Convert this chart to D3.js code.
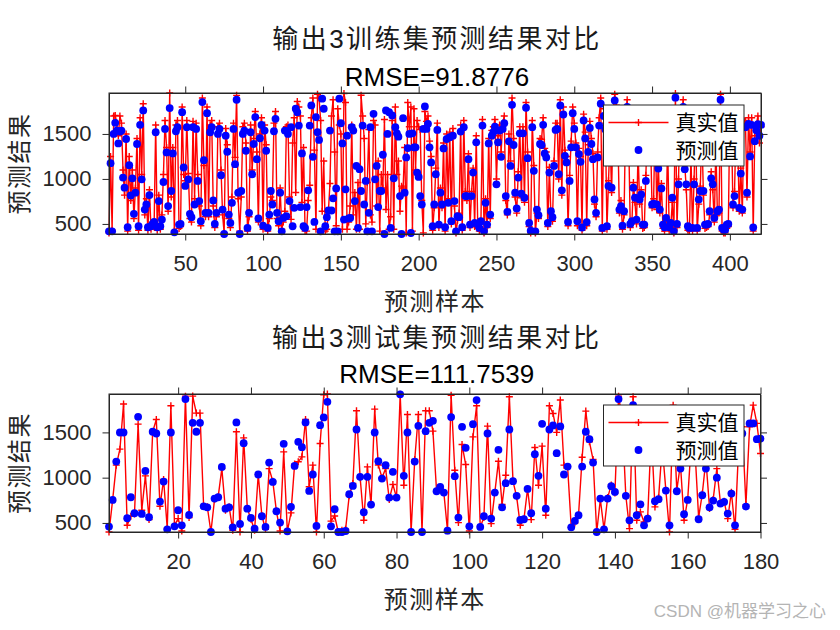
<!DOCTYPE html>
<html>
<head>
<meta charset="utf-8">
<script src="https://cdn.jsdelivr.net/npm/d3@7"></script>
<style>
  html, body { margin: 0; padding: 0; background: #fff; }
  svg { display: block; }
</style>
</head>
<body>
<svg id="chart" width="840" height="630"></svg>
<script>
// ---------- DATA ----------
const trainTitle = "输出3训练集预测结果对比";
const trainRmse = "RMSE=91.8776";
const testTitle = "输出3测试集预测结果对比";
const testRmse = "RMSE=111.7539";
const xLabel = "预测样本";
const yLabel = "预测结果";
const legendLabels = ["真实值", "预测值"];
const trainXTicks = [50, 100, 150, 200, 250, 300, 350, 400];
const testXTicks = [20, 40, 60, 80, 100, 120, 140, 160, 180];
const yTicks = [500, 1000, 1500];

const trainPred = [
418,1175,418,1500,1623,1537,1395,1526,1537,1015,
903,1444,463,1153,817,1007,612,847,1388,474,
1601,996,1761,660,716,463,821,474,500,522,
1519,463,754,474,548,966,1556,1295,698,1787,
866,1283,407,1530,1575,493,500,1742,1127,922,
1575,996,612,575,1575,716,1556,978,754,530,
1854,1209,623,1731,623,1519,1575,761,500,623,
1500,1556,1041,660,388,1481,1302,604,511,735,
1556,1164,1880,847,388,866,1500,1537,1313,455,
623,1519,1052,1388,1687,1220,560,1452,1600,480,
1537,1313,455,604,866,716,
1530,1668,623,530,847,418,567,1537,586,1500,
754,1575,474,679,1780,1742,1593,687,1283,474,
455,687,873,1593,1817,1246,522,1687,1519,1433,
418,1892,1780,474,575,649,1537,649,784,418,
895,418,1892,1619,1395,548,884,1481,560,567,
1575,1537,754,1145,455,1108,866,1593,716,978,
418,623,1575,418,1724,996,1145,687,866,866,
1269,388,1761,1500,1742,455,1705,1007,1575,1507,
1470,810,388,1675,847,1239,1343,1500,399,1507,
1351,1351,1071,1022,810,716,1556,1806,
1556,1612,1351,1183,474,716,1052,1545,493,847,
716,1339,463,1444,735,1463,530,1481,754,418,
586,575,1526,463,1575,810,810,1220,493,810,
1071,511,1407,493,455,530,1593,418,735,493,
1395,604,1481,1519,1582,940,1407,1537,1246,1556,
1619,810,634,1418,1145,1824,1377,847,672,1015,
1507,836,1507,791,1791,1231,511,425,1575,1090,
418,660,597,1388,1377,1601,1283,1239,511,1071,
642,575,1145,1545,1556,1052,1817,873,1716,1257,
1183,522,978,1351,1731,1556,1351,530,1276,1190,
460,1650,
1450,520,1300,1567,1388,1220,772,623,1239,1593,
1836,455,1700,1550,474,922,1380,903,1650,1873,
1750,1450,660,698,480,642,1600,1800,1350,500,
530,903,791,548,1250,772,828,493,493,978,
1500,1700,1400,716,724,1600,716,1116,660,895,
493,463,567,1350,463,511,791,418,1903,500,
940,1650,1550,1800,1108,940,474,455,1200,455,
940,1600,455,772,866,1450,866,493,493,500,
642,1007,940,567,1300,642,660,1880,455,436,
436,493,500,1700,1500,716,810,1575,1381,679,
1059,660,1575,1575,847,1612,1250,1600,460,1420,
1540,1610,1480,1600
];

const trainTrue = [
400,1250,430,1700,1705,1620,1480,1700,1620,1100,
820,1500,420,1250,760,1100,560,900,1450,430,
1680,1050,1836,600,780,430,880,440,470,480,
1600,430,820,440,600,1050,1650,1350,640,1955,
800,1350,420,1600,1650,450,470,1800,1050,980,
1650,1060,560,520,1640,780,1620,1050,700,480,
1900,1150,580,1800,580,1600,1650,700,460,580,
1580,1620,1100,600,400,1560,1380,560,460,800,
1620,1240,1929,780,420,800,1580,1620,1400,420,
580,1600,1100,1450,1750,1300,520,1500,1680,440,
1600,1380,420,560,800,760,1620,1750,560,480,
900,440,520,640,1580,1600,800,550,1400,1680,
850,1860,1800,1700,740,1350,420,420,760,930,
1680,1900,1320,440,1940,1900,1650,640,1200,420,
440,640,950,1700,1880,1300,480,1780,1600,1500,
440,1950,1850,440,520,700,1600,600,850,440,
960,440,1930,1700,1450,500,960,1550,600,520,
1650,1600,700,1200,420,1050,900,1660,660,1050,
440,580,1650,440,1800,1050,1200,640,920,900,
1350,400,1850,1580,1800,420,1780,1100,1650,1580,
1550,760,400,1750,
1640,1700,1420,1250,430,680,1120,1620,460,900,
680,1400,420,1500,780,1520,500,1560,700,400,
540,620,1600,430,1650,860,760,1280,460,860,
1120,470,1480,450,420,500,1660,400,780,460,
1450,560,1540,1580,1660,1000,1480,1600,1300,1620,
1700,760,600,1500,1200,1900,1450,800,620,1080,
1580,790,1580,740,1850,1300,470,400,1650,1150,
400,620,560,1450,1440,1680,1340,1300,470,1130,
600,530,1200,1620,1620,1000,1880,820,1800,1320,
1250,480,1040,1420,1800,1620,1400,480,1340,1250,
430,1720,
1520,480,1380,1640,1450,1280,720,580,1300,1680,
1900,420,1780,1620,440,980,1440,850,1720,1940,
1820,1520,620,760,440,600,1680,1880,1420,460,
500,960,740,500,1320,720,880,450,460,1040,
1580,1780,1460,680,780,1680,660,1180,620,950,
450,420,520,1420,420,470,740,400,1950,460,
1000,1720,1620,1880,1160,880,430,420,1260,420,
1000,1680,420,720,920,1520,820,450,460,470,
600,1080,880,520,1380,600,620,1940,420,400,
400,450,470,1780,1580,680,860,1640,1440,640,
1120,620,1650,1640,800,1680,1300,1680,420,1480,
1600,1700,1400,1580
];

const testPred = [
460,754,1178,1499,1499,552,784,607,1672,600,
1075,563,1507,1488,736,957,430,1499,463,640,
474,1868,588,1606,1507,1606,684,673,400,769,
784,1119,658,673,452,1610,489,1381,658,555,
437,1035,574,456,1167,
953,629,504,1374,408,677,1130,1396,1337,1610,
854,1035,467,1580,1665,1838,463,651,400,400,
411,817,909,1532,1009,618,1009,703,1499,1182,
990,1138,780,1064,780,1920,1020,1499,400,1178,
1573,400,1514,1606,
1628,850,898,835,415,1669,1016,559,1562,1330,
463,1591,1857,456,574,1488,548,835,1307,673,
939,1532,961,799,533,541,876,607,1260,1020,
1595,658,1532,1577,1271,1566,1035,1123,452,522,
585,1123,1507,
1425,1167,400,769,430,769,906,843,1868,1500,
799,529,1800,585,706,474,548,1400,740,762,
1300,858,474,1700,850,1100,596,754,1300,1200,
541,806,1100,673,747,1000,714,732,603,824,
474,1300,1488,681,1599,1599,1425,1430
];

const testTrue = [
400,754,1138,1315,1813,474,574,600,1591,640,
1020,537,1507,1643,684,980,440,1794,474,548,
411,1900,560,1901,1713,1713,684,680,400,760,
790,1100,640,680,420,1507,400,1440,660,540,
420,1035,580,430,1100,
960,629,411,1285,408,611,1150,1175,1230,1643,
900,1138,400,1377,1915,1924,520,577,400,420,
430,800,935,1739,1000,529,1119,700,1757,1140,
1000,1100,760,924,780,1920,917,1698,400,1200,
1698,400,1739,1739,
1514,850,880,835,415,1910,1082,504,1366,1145,
411,1451,1794,456,560,1569,493,835,1182,703,
1027,1894,960,790,474,541,876,537,1333,917,
1348,585,1794,1709,1500,1857,1138,1123,452,500,
585,1226,1735,
1396,1200,400,760,430,780,920,830,1900,1650,
800,437,1894,529,622,511,560,1500,677,780,
1350,860,400,1801,860,1150,529,760,1400,1300,
560,820,1200,660,760,1100,720,740,548,840,
430,1350,1562,700,1562,1801,1600,1267
];

// ---------- DRAW ----------
const svg = d3.select("#chart");
const AX = "#262626";
const FONT = "'Liberation Sans', Arial, 'Noto Sans CJK SC', sans-serif";
const RED_W = 1.4;
const DOT_R = 3.9;
const PLUS = 3.5;

function drawPanel(cfg) {
  const { truth, pred, xTicks, box, title, rmse, titleY, rmseY, xlabY, legendY } = cfg;
  const n = truth.length;
  const x = d3.scaleLinear().domain([1, n]).range([box.left, box.right]);
  const ext = d3.extent(truth.concat(pred));
  const y = d3.scaleLinear().domain(ext).range([box.bottom, box.top]);
  const g = svg.append("g");

  g.append("rect").attr("x", box.left).attr("y", box.top)
    .attr("width", box.right - box.left).attr("height", box.bottom - box.top)
    .attr("fill", "#fff");

  const idx = d3.range(n);
  const line = d3.line().x(i => x(i + 1)).y(i => y(truth[i]));
  g.append("path").datum(idx).attr("d", line)
    .attr("fill", "none").attr("stroke", "#ff0000").attr("stroke-width", RED_W)
    .attr("stroke-linejoin", "round");
  const s = PLUS;
  g.append("path")
    .attr("d", idx.map(i => {
      const cx = x(i + 1), cy = y(truth[i]);
      return `M${cx - s},${cy}H${cx + s}M${cx},${cy - s}V${cy + s}`;
    }).join(""))
    .attr("stroke", "#ff0000").attr("stroke-width", RED_W).attr("fill", "none");
  g.selectAll("circle.pred").data(idx).enter().append("circle")
    .attr("class", "pred")
    .attr("cx", i => x(i + 1)).attr("cy", i => y(pred[i]))
    .attr("r", DOT_R).attr("fill", "#0000ff");

  const tl = 6.5;
  const styleAxis = (sel, labels) => {
    sel.select(".domain").attr("stroke", AX).attr("stroke-width", 1);
    sel.selectAll(".tick line").attr("stroke", AX).attr("stroke-width", 1);
    sel.selectAll(".tick text").attr("fill", AX).style("font-family", FONT).style("font-size", "22px");
    if (!labels) sel.selectAll(".tick text").remove();
  };
  const xb = g.append("g").attr("transform", `translate(0,${box.bottom})`)
    .call(d3.axisBottom(x).tickValues(xTicks).tickSizeInner(tl).tickSizeOuter(0).tickPadding(15).tickFormat(d3.format("d")));
  styleAxis(xb, true);
  const xt = g.append("g").attr("transform", `translate(0,${box.top})`)
    .call(d3.axisTop(x).tickValues(xTicks).tickSizeInner(tl).tickSizeOuter(0));
  styleAxis(xt, false);
  const yl = g.append("g").attr("transform", `translate(${box.left},0)`)
    .call(d3.axisLeft(y).tickValues(yTicks).tickSizeInner(tl).tickSizeOuter(0).tickPadding(11).tickFormat(d3.format("d")));
  styleAxis(yl, true);
  const yr = g.append("g").attr("transform", `translate(${box.right},0)`)
    .call(d3.axisRight(y).tickValues(yTicks).tickSizeInner(tl).tickSizeOuter(0));
  styleAxis(yr, false);
  g.append("rect").attr("x", box.left).attr("y", box.top)
    .attr("width", box.right - box.left).attr("height", box.bottom - box.top)
    .attr("fill", "none").attr("stroke", AX).attr("stroke-width", 1);

  const cx = (box.left + box.right) / 2;
  g.append("text").attr("x", cx + 2).attr("y", titleY).attr("text-anchor", "middle")
    .attr("dominant-baseline", "central")
    .style("font-family", FONT).style("font-size", "26px").style("letter-spacing", "2.4px")
    .attr("fill", "#1a1a1a").text(title);
  g.append("text").attr("x", cx + 2).attr("y", rmseY).attr("text-anchor", "middle")
    .attr("dominant-baseline", "central")
    .style("font-family", FONT).style("font-size", "26px")
    .attr("fill", "#000").text(rmse);
  g.append("text").attr("x", cx).attr("y", xlabY).attr("text-anchor", "middle")
    .attr("dominant-baseline", "central")
    .style("font-family", FONT).style("font-size", "24px").style("letter-spacing", "1.5px")
    .attr("fill", AX).text(xLabel);
  const ycy = (box.top + box.bottom) / 2;
  g.append("text").attr("transform", `translate(19,${ycy}) rotate(-90)`)
    .attr("text-anchor", "middle").attr("dominant-baseline", "central")
    .style("font-family", FONT).style("font-size", "24px").style("letter-spacing", "1.5px")
    .attr("fill", AX).text(yLabel);

  const lg = g.append("g");
  const lx = 603.5, lw = 140.5, lh = 61;
  lg.append("rect").attr("x", lx).attr("y", legendY).attr("width", lw).attr("height", lh)
    .attr("fill", "#fff").attr("stroke", AX).attr("stroke-width", 1);
  const r1 = legendY + 17.5, r2 = legendY + 45;
  lg.append("line").attr("x1", lx + 5).attr("x2", lx + 65).attr("y1", r1).attr("y2", r1)
    .attr("stroke", "#ff0000").attr("stroke-width", RED_W);
  const mx = lx + 35;
  lg.append("path").attr("d", `M${mx - s},${r1}H${mx + s}M${mx},${r1 - s}V${r1 + s}`)
    .attr("stroke", "#ff0000").attr("stroke-width", RED_W);
  lg.append("circle").attr("cx", mx).attr("cy", r2).attr("r", DOT_R).attr("fill", "#0000ff");
  [r1, r2].forEach((ry, k) => {
    lg.append("text").attr("x", lx + 72).attr("y", ry).attr("dominant-baseline", "central")
      .style("font-family", FONT).style("font-size", "21px")
      .attr("fill", "#000").text(legendLabels[k]);
  });
}

drawPanel({
  truth: trainTrue, pred: trainPred, xTicks: trainXTicks,
  box: { left: 109, right: 761, top: 93, bottom: 234 },
  title: trainTitle, rmse: trainRmse, titleY: 39, rmseY: 76.5, xlabY: 301, legendY: 105
});
drawPanel({
  truth: testTrue, pred: testPred, xTicks: testXTicks,
  box: { left: 109, right: 760.5, top: 394, bottom: 532 },
  title: testTitle, rmse: testRmse, titleY: 337.5, rmseY: 374, xlabY: 599, legendY: 405
});

svg.append("text").attr("x", 826).attr("y", 611).attr("text-anchor", "end")
  .attr("dominant-baseline", "central")
  .style("font-family", FONT).style("font-size", "17px")
  .attr("fill", "#b4b4b4").text("CSDN @机器学习之心");
</script>
</body>
</html>
